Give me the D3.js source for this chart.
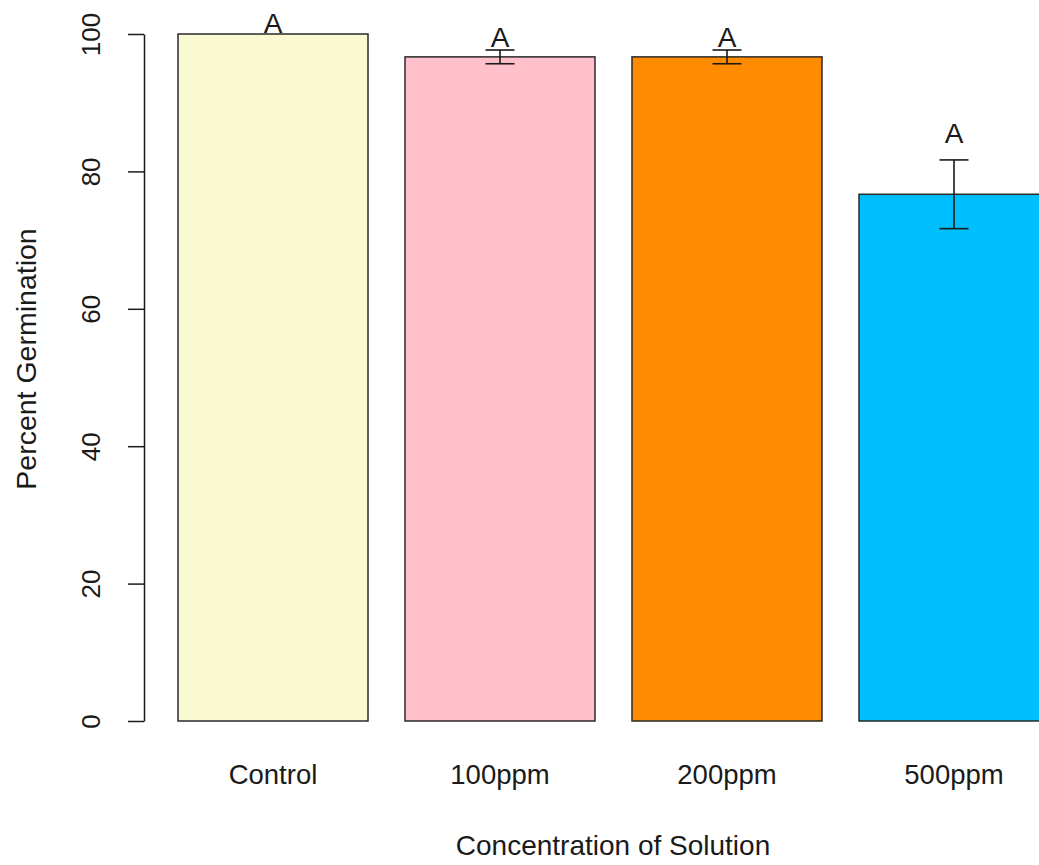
<!DOCTYPE html>
<html>
<head>
<meta charset="utf-8">
<script src="https://cdn.jsdelivr.net/npm/d3@7"></script>
<style>
  body { margin: 0; background: #fff; }
  svg { display: block; overflow: hidden; }
  text { font-family: "Liberation Sans", Arial, sans-serif; fill: #1a1a1a; }
</style>
</head>
<body>
<div id="chart"></div>
<script>
// data
var categories = ["Control", "100ppm", "200ppm", "500ppm"];
var means = [100, 96.67, 96.67, 76.67];
var errors = [0, 1.0, 1.0, 5.0];
var letters = ["A", "A", "A", "A"];
var letterY = [100.2, 98.1, 98.1, 84.1];
var colors = ["#FAFAD2", "#FFC0CB", "#FF8C00", "#00BFFF"];
var yTicks = [0, 20, 40, 60, 80, 100];

function drawChart() {
  var width = 1039, height = 865;

  var svg = d3.select("#chart")
    .append("svg")
    .attr("width", width)
    .attr("height", height);

  // x band scale: bars 190 wide, step 227
  var x = d3.scaleBand()
    .domain(categories)
    .range([159.5, 1067.5])
    .paddingInner(0.163)
    .paddingOuter(0.0815);

  var y = d3.scaleLinear()
    .domain([0, 100])
    .range([721, 34]);

  var rows = categories.map(function(c, i) {
    return { cat: c, mean: means[i], err: errors[i], letter: letters[i], ly: letterY[i], color: colors[i] };
  });

  // bars
  svg.selectAll(".bar")
    .data(rows)
    .enter()
    .append("rect")
    .attr("class", "bar")
    .attr("x", function(d) { return x(d.cat); })
    .attr("y", function(d) { return y(d.mean); })
    .attr("width", x.bandwidth())
    .attr("height", function(d) { return y(0) - y(d.mean); })
    .style("fill", function(d) { return d.color; })
    .style("stroke", "#2a2a2a")
    .style("stroke-width", 1.5);

  // error bars
  var capHalf = 14.5;
  var eb = svg.selectAll(".err")
    .data(rows.filter(function(d) { return d.err > 0; }))
    .enter()
    .append("g")
    .attr("class", "err")
    .style("stroke", "#1a1a1a")
    .style("stroke-width", 1.6);
  eb.append("line")
    .attr("x1", function(d) { return x(d.cat) + x.bandwidth() / 2; })
    .attr("x2", function(d) { return x(d.cat) + x.bandwidth() / 2; })
    .attr("y1", function(d) { return y(d.mean + d.err); })
    .attr("y2", function(d) { return y(d.mean - d.err); });
  eb.append("line")
    .attr("x1", function(d) { return x(d.cat) + x.bandwidth() / 2 - capHalf; })
    .attr("x2", function(d) { return x(d.cat) + x.bandwidth() / 2 + capHalf; })
    .attr("y1", function(d) { return y(d.mean + d.err); })
    .attr("y2", function(d) { return y(d.mean + d.err); });
  eb.append("line")
    .attr("x1", function(d) { return x(d.cat) + x.bandwidth() / 2 - capHalf; })
    .attr("x2", function(d) { return x(d.cat) + x.bandwidth() / 2 + capHalf; })
    .attr("y1", function(d) { return y(d.mean - d.err); })
    .attr("y2", function(d) { return y(d.mean - d.err); });

  // significance letters
  svg.selectAll(".letter")
    .data(rows)
    .enter()
    .append("text")
    .attr("class", "letter")
    .attr("x", function(d) { return x(d.cat) + x.bandwidth() / 2; })
    .attr("y", function(d) { return y(d.ly); })
    .attr("text-anchor", "middle")
    .style("font-size", "28px")
    .text(function(d) { return d.letter; });

  // y axis (R style: line spans ticks only, labels rotated)
  var yAxis = svg.append("g")
    .attr("transform", "translate(144,0)")
    .call(d3.axisLeft(y).tickValues(yTicks).tickSize(16).tickSizeOuter(0).tickPadding(0));
  yAxis.select(".domain").style("stroke", "#1a1a1a").style("stroke-width", 1.5);
  yAxis.selectAll(".tick line").style("stroke", "#1a1a1a").style("stroke-width", 1.5);
  yAxis.selectAll(".tick text")
    .attr("x", 0)
    .attr("dy", null)
    .attr("transform", "translate(-44,0) rotate(-90)")
    .attr("text-anchor", "middle")
    .attr("fill", "#1a1a1a")
    .style("font-size", "26px")
    .style("font-family", "'Liberation Sans', Arial, sans-serif");

  // category labels
  svg.selectAll(".cat-label")
    .data(categories)
    .enter()
    .append("text")
    .attr("class", "cat-label")
    .attr("x", function(d) { return x(d) + x.bandwidth() / 2; })
    .attr("y", 784)
    .attr("text-anchor", "middle")
    .style("font-size", "27.5px")
    .text(function(d) { return d; });

  // axis titles
  svg.append("text")
    .attr("x", 613)
    .attr("y", 855)
    .attr("text-anchor", "middle")
    .style("font-size", "28px")
    .text("Concentration of Solution");

  svg.append("text")
    .attr("transform", "translate(36,359) rotate(-90)")
    .attr("text-anchor", "middle")
    .style("font-size", "28.5px")
    .text("Percent Germination");
}

window.onload = drawChart;
</script>
</body>
</html>
